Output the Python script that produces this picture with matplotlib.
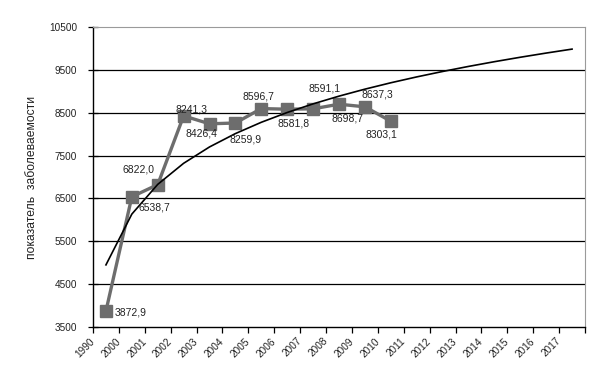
import numpy as np
import matplotlib
matplotlib.use('Agg')
import matplotlib.pyplot as plt

plt.rcParams['font.family'] = ['Liberation Sans', 'DejaVu Sans']

# Categories on the x axis
years = ['1990', '2000', '2001', '2002', '2003', '2004', '2005', '2006', '2007',
         '2008', '2009', '2010', '2011', '2012', '2013', '2014', '2015', '2016', '2017']

# Observed values (first 12 categories) and their printed labels
values = [3872.9, 6538.7, 6822.0, 8426.4, 8241.3, 8259.9,
          8596.7, 8581.8, 8591.1, 8698.7, 8637.3, 8303.1]
value_labels = ['3872,9', '6538,7', '6822,0', '8241,3', '8426,4', '8259,9',
                '8596,7', '8581,8', '8591,1', '8698,7', '8637,3', '8303,1']

y_ticks = [3500, 4500, 5500, 6500, 7500, 8500, 9500, 10500]

# label placement (pixel offsets, horizontal alignment)
label_offsets = [(9, -1, 'left'), (7, -11, 'left'), (-3, 15, 'right'), (8, 6, 'center'),
                 (-8, -10, 'center'), (10, -16, 'center'), (-3, 12, 'center'),
                 (6, -14, 'center'), (11, 20, 'center'), (9, -14, 'center'),
                 (12, 12, 'center'), (-9, -13, 'center')]

fig = plt.figure(figsize=(6.09, 3.70), dpi=100)
ax = fig.add_axes([93 / 609, 1 - 327 / 370, 492 / 609, 300 / 370])

n = len(years)
x_all = np.arange(n) + 0.5
x_obs = x_all[:len(values)]

# Logarithmic trend line over all categories
b, a = np.polyfit(np.log(np.arange(1, len(values) + 1)), values, 1)
trend = a + b * np.log(np.arange(1, n + 1))

ax.set_xlim(0, n)
ax.set_ylim(3500, 10500)

for yv in y_ticks[1:-1]:
    ax.axhline(yv, color='black', lw=0.9, zorder=1)

ax.plot(x_obs, values, color='#6d6d6d', lw=2.4, marker='s', markersize=9,
        markerfacecolor='#6d6d6d', markeredgecolor='#6d6d6d', zorder=3)
ax.plot(x_all, trend, color='black', lw=1.2, zorder=4)

for xv, yv, lab, (dx, dy, ha) in zip(x_obs, values, value_labels, label_offsets):
    ax.annotate(lab, (xv, yv), xytext=(dx, dy), textcoords='offset pixels',
                ha=ha, va='center', fontsize=7.5, color='#222222', zorder=5)

ax.set_yticks(y_ticks)
ax.set_yticklabels([str(v) for v in y_ticks], fontsize=7.2, color='#222222')
ax.set_xticks(np.arange(n + 1))
ax.set_xticklabels(years + [''], fontsize=7.2, color='#222222', rotation=45,
                   ha='right', va='center', rotation_mode='anchor')
ax.tick_params(axis='y', direction='inout', length=7, width=0.9, pad=8)
ax.tick_params(axis='x', direction='out', length=4, width=0.9, pad=5)

ax.spines['left'].set_linewidth(1.0)
ax.spines['bottom'].set_linewidth(1.0)
ax.spines['top'].set_color('#9a9a9a')
ax.spines['right'].set_color('#9a9a9a')

fig.text(32 / 609, 1 - 177 / 370, 'показатель  заболеваемости', rotation=90,
         ha='center', va='center', fontsize=8.7, color='#222222')

fig.savefig('out.png', dpi=100)
